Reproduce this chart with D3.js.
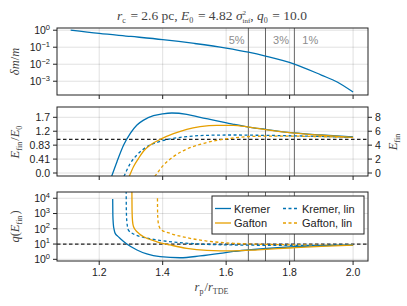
<!DOCTYPE html>
<meta charset="utf-8">
<body style="margin:0;background:#fff">
<script src="https://d3js.org/d3.v7.min.js"></script>
<script>
// values
var dmX   = [1.11, 1.2, 1.3, 1.4, 1.5, 1.6, 1.67, 1.724, 1.815, 1.9, 1.95, 2.0];
var dmVal = [1.02, 0.65, 0.43, 0.28, 0.166, 0.089, 0.051, 0.030, 0.0102, 0.0023, 0.0009, 0.00023];

var cuts      = [1.67, 1.724, 1.815];
var cutLabels = ["5%", "3%", "1%"];
var cutLabelX = [1.633, 1.773, 1.865];

var E0 = 4.82, q0 = 10;

var kremerEX = [1.239, 1.256, 1.277, 1.298, 1.319, 1.340, 1.371, 1.40, 1.429, 1.476, 1.518, 1.560, 1.623, 1.67, 1.724, 1.815, 1.9, 2.0];
var kremerE  = [-0.5, 1.63, 4.02, 5.70, 6.9, 7.6, 8.23, 8.5, 8.62, 8.43, 8.0, 7.61, 7.0, 6.6, 6.27, 5.75, 5.46, 5.17];
var gaftonEX = [1.2945, 1.308, 1.324, 1.340, 1.361, 1.397, 1.434, 1.476, 1.518, 1.571, 1.623, 1.67, 1.724, 1.815, 1.9, 2.0];
var gaftonE  = [-0.5, 0.91, 2.11, 3.16, 4.02, 4.93, 5.65, 6.27, 6.65, 6.85, 6.85, 6.6, 6.22, 5.72, 5.42, 5.12];
var kremerLinEX = [1.278, 1.298, 1.319, 1.350, 1.382, 1.424, 1.476, 1.539, 1.623, 1.70, 1.8, 1.9, 2.0];
var kremerLinE  = [-0.5, 1.39, 2.59, 3.78, 4.4, 4.89, 5.22, 5.41, 5.46, 5.42, 5.35, 5.25, 5.13];
var gaftonLinEX = [1.375, 1.403, 1.434, 1.476, 1.518, 1.571, 1.623, 1.70, 1.8, 1.9, 2.0];
var gaftonLinE  = [-0.5, 1.15, 2.35, 3.45, 4.12, 4.70, 5.03, 5.28, 5.3, 5.22, 5.1];

var kremerQX = [1.2425, 1.243, 1.2445, 1.247, 1.2504, 1.258, 1.266, 1.287, 1.319, 1.350, 1.392, 1.455, 1.518, 1.581, 1.623, 1.67, 1.75, 1.85, 2.0];
var kremerQ  = [8900, 794, 200, 89, 50, 33, 23, 10, 4.1, 2.24, 1.48, 1.27, 1.66, 2.45, 3.3, 4.1, 5.5, 7.2, 8.9];
var gaftonQX = [1.303, 1.3035, 1.305, 1.308, 1.315, 1.325, 1.340, 1.382, 1.424, 1.476, 1.539, 1.623, 1.70, 1.80, 1.9, 2.0];
var gaftonQ  = [31600, 1585, 316, 141, 79, 50, 30, 14.1, 8.7, 5.2, 3.9, 3.6, 4.2, 5.5, 7.1, 8.5];
var kremerLinQX = [1.285, 1.2855, 1.287, 1.292, 1.308, 1.340, 1.382, 1.445, 1.518, 1.623, 1.75, 1.9, 2.0];
var kremerLinQ  = [31600, 1585, 316, 83, 46, 27.5, 18.6, 12.9, 10.0, 8.7, 8.3, 8.3, 8.5];
var gaftonLinQX = [1.3836, 1.384, 1.386, 1.390, 1.397, 1.424, 1.476, 1.539, 1.623, 1.75, 1.9, 2.0];
var gaftonLinQ  = [10000, 1000, 251, 126, 83, 50, 26.3, 15.8, 11.2, 9.3, 8.5, 8.3];

var xTicks = [1.2, 1.4, 1.6, 1.8, 2.0];
var dmTicks = [1, 0.1, 0.01, 0.001];
var eTicks = [0, 2, 4, 6, 8];
var eTickLabels = ["0.0", "0.41", "0.83", "1.2", "1.7"];
var qTicks = [1, 10, 100, 1000, 10000];

var blue = "#0072b2", orange = "#e69f00";
var sans = "'Liberation Sans', Arial, sans-serif", serif = "'Liberation Serif', 'DejaVu Serif', serif";

var width = 407, height = 306, left = 57, right = 368;
var p1 = {top: 28, bottom: 95}, p2 = {top: 107, bottom: 176}, p3 = {top: 192, bottom: 261};

var svg = d3.select("body").append("svg")
    .attr("width", width)
    .attr("height", height);

var x = d3.scaleLinear().domain([1.067, 2.047]).range([left, right]);
var y1 = d3.scaleLog().domain([Math.pow(10, -3.81), Math.pow(10, 0.13)]).range([p1.bottom, p1.top]);
var y2 = d3.scaleLinear().domain([-0.43, 9.48]).range([p2.bottom, p2.top]);
var y3 = d3.scaleLog().domain([Math.pow(10, -0.11), Math.pow(10, 4.41)]).range([p3.bottom, p3.top]);

function clip(id, p) {
  svg.append("clipPath").attr("id", id).append("rect")
    .attr("x", left).attr("y", p.top).attr("width", right - left).attr("height", p.bottom - p.top);
}
clip("c1", p1); clip("c2", p2); clip("c3", p3);

function grid(p, y, yt) {
  var g = svg.append("g").attr("stroke", "#000").attr("stroke-opacity", 0.12);
  g.selectAll(".gx").data(xTicks).enter().append("line")
    .attr("x1", d => x(d)).attr("x2", d => x(d)).attr("y1", p.top).attr("y2", p.bottom);
  g.selectAll(".gy").data(yt).enter().append("line")
    .attr("x1", left).attr("x2", right).attr("y1", d => y(d)).attr("y2", d => y(d));
}
grid(p1, y1, dmTicks); grid(p2, y2, eTicks); grid(p3, y3, qTicks);

// threshold lines through all panels
[p1, p2, p3].forEach(function(p) {
  svg.append("g").selectAll("line").data(cuts).enter().append("line")
    .attr("x1", d => x(d)).attr("x2", d => x(d)).attr("y1", p.top).attr("y2", p.bottom)
    .attr("stroke", "#666").attr("stroke-width", 1);
});
svg.selectAll(".cutlab").data(cutLabels).enter().append("text")
  .attr("x", (d, i) => x(cutLabelX[i])).attr("y", 44)
  .attr("text-anchor", "middle").attr("font-family", sans).attr("font-size", 11)
  .attr("fill", "#8c8c8c").text(d => d);

function curve(clipId, y, xs, ys, color, dashed) {
  var pts = xs.map((d, i) => [d, ys[i]]);
  svg.append("path").datum(pts)
    .attr("clip-path", "url(#" + clipId + ")")
    .attr("fill", "none").attr("stroke", color).attr("stroke-width", 1.3)
    .attr("stroke-dasharray", dashed ? "3,2.5" : null)
    .attr("d", d3.line().x(d => x(d[0])).y(d => y(d[1])).curve(d3.curveMonotoneX));
}
function hdash(clipId, y, v) {
  svg.append("line").attr("clip-path", "url(#" + clipId + ")")
    .attr("x1", left).attr("x2", right).attr("y1", y(v)).attr("y2", y(v))
    .attr("stroke", "#222").attr("stroke-width", 1.2).attr("stroke-dasharray", "3.5,2.5");
}

curve("c1", y1, dmX, dmVal, blue, false);

hdash("c2", y2, E0);
curve("c2", y2, kremerLinEX, kremerLinE, blue, true);
curve("c2", y2, gaftonLinEX, gaftonLinE, orange, true);
curve("c2", y2, kremerEX, kremerE, blue, false);
curve("c2", y2, gaftonEX, gaftonE, orange, false);

hdash("c3", y3, q0);
curve("c3", y3, kremerLinQX, kremerLinQ, blue, true);
curve("c3", y3, gaftonLinQX, gaftonLinQ, orange, true);
curve("c3", y3, kremerQX, kremerQ, blue, false);
curve("c3", y3, gaftonQX, gaftonQ, orange, false);

// frames and ticks
function frame(p) {
  svg.append("rect").attr("x", left).attr("y", p.top).attr("width", right - left).attr("height", p.bottom - p.top)
    .attr("fill", "none").attr("stroke", "#222").attr("stroke-width", 1);
  svg.append("g").selectAll("line").data(xTicks).enter().append("line")
    .attr("x1", d => x(d)).attr("x2", d => x(d)).attr("y1", p.bottom).attr("y2", p.bottom + 4)
    .attr("stroke", "#222");
}
frame(p1); frame(p2); frame(p3);

function yTicks(y, vals, labels, side) {
  var g = svg.append("g").attr("font-family", sans).attr("font-size", 10.5).attr("fill", "#222");
  vals.forEach(function(v, i) {
    var yy = y(v);
    var x0 = side === "r" ? right : left, dir = side === "r" ? 1 : -1;
    g.append("line").attr("x1", x0).attr("x2", x0 + dir * 4).attr("y1", yy).attr("y2", yy).attr("stroke", "#222");
    g.append("text").attr("x", x0 + dir * 7).attr("y", yy + 3.8)
      .attr("text-anchor", side === "r" ? "start" : "end")
      .html(labels[i]);
  });
}
function pow10(v) {
  var e = Math.round(Math.log10(v));
  return "10<tspan font-size='7.5' dy='-4.5'>" + (e < 0 ? "\u2212" + (-e) : e) + "</tspan>";
}
yTicks(y1, dmTicks, dmTicks.map(pow10), "l");
yTicks(y2, eTicks, eTickLabels, "l");
yTicks(y2, eTicks, eTicks.map(String), "r");
yTicks(y3, qTicks, qTicks.map(pow10), "l");

svg.append("g").attr("font-family", sans).attr("font-size", 10.5).attr("fill", "#222")
  .selectAll("text").data(xTicks).enter().append("text")
  .attr("x", d => x(d)).attr("y", 276).attr("text-anchor", "middle")
  .text(d => d.toFixed(1));

// labels
function label(tx, ty, rot, html, size) {
  svg.append("text").attr("transform", "translate(" + tx + "," + ty + ") rotate(" + rot + ")")
    .attr("text-anchor", "middle").attr("font-family", serif).attr("font-size", size || 12.5)
    .attr("fill", "#444").html(html);
}
var sub = function(t) { return "<tspan font-size='8' dy='2.5'>" + t + "</tspan><tspan dy='-2.5'>\u200a</tspan>"; };
label(212, 20, 0,
  "<tspan font-style='italic'>r</tspan>" + sub("c") + " = 2.6 pc, " +
  "<tspan font-style='italic'>E</tspan>" + sub("0") + " = 4.82 " +
  "<tspan font-style='italic'>\u03c3</tspan><tspan font-size='7' dy='-5'>2</tspan>" +
  "<tspan font-size='7' dx='-3.5' dy='8'>inf</tspan><tspan dy='-3'>, </tspan>" +
  "<tspan font-style='italic'>q</tspan>" + sub("0") + " = 10.0", 13.5);
label(19, (p1.top + p1.bottom) / 2, -90,
  "<tspan font-style='italic'>\u03b4m</tspan>/<tspan font-style='italic'>m</tspan>");
label(19, (p2.top + p2.bottom) / 2, -90,
  "<tspan font-style='italic'>E</tspan>" + sub("fin") + "/<tspan font-style='italic'>E</tspan>" + sub("0"));
label(397, (p2.top + p2.bottom) / 2, -90,
  "<tspan font-style='italic'>E</tspan>" + sub("fin"));
label(19, (p3.top + p3.bottom) / 2, -90,
  "<tspan font-style='italic'>q</tspan>(<tspan font-style='italic'>E</tspan>" + sub("fin") + ")");
label(212, 291, 0,
  "<tspan font-style='italic'>r</tspan>" + sub("p") + "/<tspan font-style='italic'>r</tspan>" + sub("TDE"));

// legend
var legendNames = ["Kremer", "Kremer, lin", "Gafton", "Gafton, lin"];
var legendColors = [blue, blue, orange, orange];
var legendDash = [false, true, false, true];
var lg = svg.append("g");
lg.append("rect").attr("x", 212).attr("y", 196).attr("width", 152).attr("height", 38)
  .attr("fill", "#fff").attr("stroke", "#222");
legendNames.forEach(function(n, i) {
  var cx = i % 2 === 0 ? 215 : 283, cy = i < 2 ? 208.5 : 223;
  lg.append("line").attr("x1", cx).attr("x2", cx + 16).attr("y1", cy).attr("y2", cy)
    .attr("stroke", legendColors[i]).attr("stroke-width", 1.3)
    .attr("stroke-dasharray", legendDash[i] ? "3,2.5" : null);
  lg.append("text").attr("x", cx + 19).attr("y", cy + 4).attr("font-family", sans)
    .attr("font-size", 11).attr("fill", "#222").text(n);
});
</script>
</body>
